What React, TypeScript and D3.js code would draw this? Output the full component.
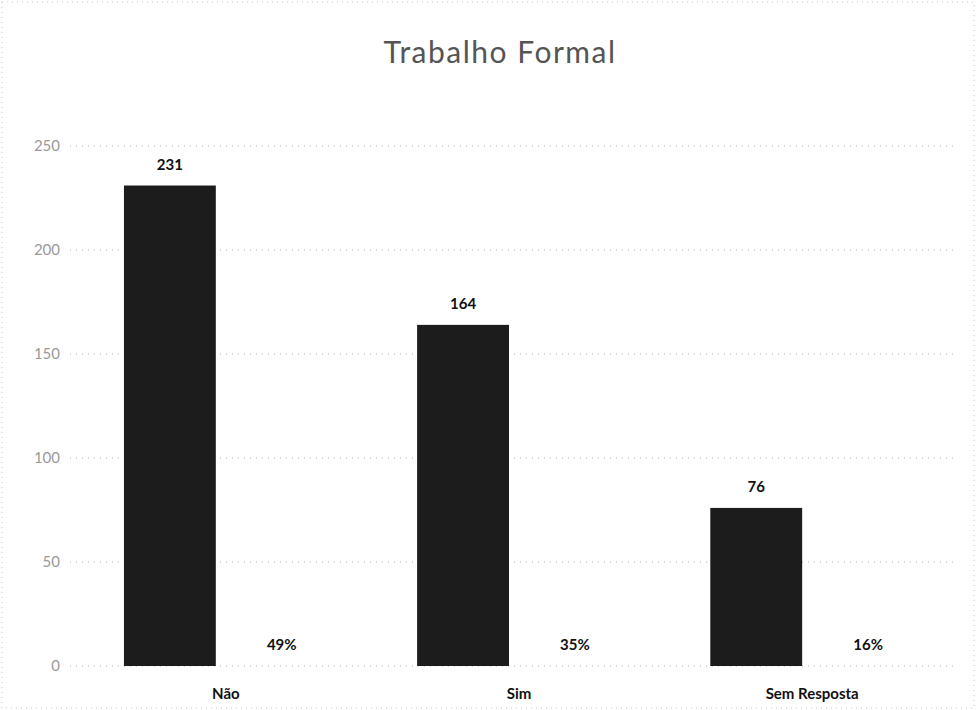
import * as d3 from 'd3';
import { useEffect, useRef } from 'react';

const categories = ['Não', 'Sim', 'Sem Resposta'];
const counts = [231, 164, 76];
const percents = ['49%', '35%', '16%'];
const yTicks = [0, 50, 100, 150, 200, 250];
const title = 'Trabalho Formal';

function Chart() {
  const svgRef = useRef<SVGSVGElement>(null);

  useEffect(() => {
    document.body.style.margin = '0';
    const width = 976;
    const height = 710;
    const margin = { top: 146, right: 8, bottom: 44, left: 70 };
    const gridRight = 955;
    const font = 'Lato, "Open Sans", sans-serif';

    const svg = d3.select(svgRef.current);
    svg.selectAll('*').remove();
    svg.attr('width', width).attr('height', height).style('display', 'block');

    svg.append('rect')
      .attr('x', 2).attr('y', 2)
      .attr('width', width - 4).attr('height', height - 4)
      .attr('fill', 'white')
      .attr('stroke', '#c8c8c8')
      .attr('stroke-dasharray', '1,4');

    const x = d3.scaleBand()
      .domain(categories)
      .range([margin.left, width - margin.right])
      .paddingInner(0.305)
      .paddingOuter(0.184);

    // bar slot + percent-label slot inside each category
    const inner = d3.scaleBand()
      .domain(['valor', 'pct'])
      .range([0, x.bandwidth()])
      .paddingInner(0.179);

    const y = d3.scaleLinear()
      .domain([0, 250])
      .range([height - margin.bottom, margin.top]);

    // grid
    svg.append('g')
      .selectAll('line')
      .data(yTicks)
      .join('line')
      .attr('x1', margin.left)
      .attr('x2', gridRight)
      .attr('y1', d => y(d))
      .attr('y2', d => y(d))
      .attr('stroke', '#b0b0b0')
      .attr('stroke-width', 1)
      .attr('stroke-dasharray', '1,5');

    // y labels
    svg.append('g')
      .selectAll('text')
      .data(yTicks)
      .join('text')
      .attr('x', 60)
      .attr('y', d => y(d))
      .attr('dy', '0.35em')
      .attr('text-anchor', 'end')
      .attr('font-family', font)
      .attr('font-size', 15)
      .attr('fill', '#9a9a9a')
      .text(d => d);

    const data = categories.map((c, i) => ({ c, v: counts[i], p: percents[i] }));
    const slotMid = (c: string, k: string) =>
      (x(c) as number) + (inner(k) as number) + inner.bandwidth() / 2;

    // bars
    svg.append('g')
      .selectAll('rect')
      .data(data)
      .join('rect')
      .attr('x', d => (x(d.c) as number) + (inner('valor') as number))
      .attr('y', d => y(d.v))
      .attr('width', inner.bandwidth())
      .attr('height', d => y(0) - y(d.v))
      .attr('fill', '#1c1c1c');

    // value labels
    svg.append('g')
      .selectAll('text')
      .data(data)
      .join('text')
      .attr('x', d => slotMid(d.c, 'valor'))
      .attr('y', d => y(d.v) - 16)
      .attr('text-anchor', 'middle')
      .attr('font-family', font)
      .attr('font-weight', 'bold')
      .attr('font-size', 15)
      .attr('fill', '#111')
      .text(d => d.v);

    // percent labels
    svg.append('g')
      .selectAll('text')
      .data(data)
      .join('text')
      .attr('x', d => slotMid(d.c, 'pct'))
      .attr('y', y(0) - 16)
      .attr('text-anchor', 'middle')
      .attr('font-family', font)
      .attr('font-weight', 'bold')
      .attr('font-size', 15)
      .attr('fill', '#111')
      .text(d => d.p);

    // category labels
    svg.append('g')
      .selectAll('text')
      .data(data)
      .join('text')
      .attr('x', d => (x(d.c) as number) + x.bandwidth() / 2)
      .attr('y', y(0) + 33)
      .attr('text-anchor', 'middle')
      .attr('font-family', font)
      .attr('font-weight', 'bold')
      .attr('font-size', 15)
      .attr('fill', '#111')
      .text(d => d.c);

    svg.append('text')
      .attr('x', 500)
      .attr('y', 63)
      .attr('text-anchor', 'middle')
      .attr('font-family', font)
      .attr('font-size', 30)
      .attr('letter-spacing', 1.5)
      .attr('fill', '#555')
      .text(title);
  }, []);

  return <svg ref={svgRef} />;
}

export default function App() {
  return <Chart />;
}
